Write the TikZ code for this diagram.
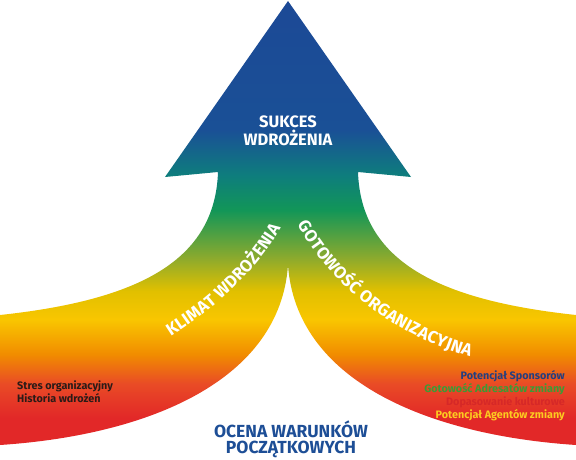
\documentclass[tikz,border=0pt]{standalone}
\usepackage{fontspec}
\setmainfont{Fira Sans}
\usepackage{xcolor}
\usetikzlibrary{decorations.text}

\definecolor{czerwony}{RGB}{226,40,40}
\definecolor{czerwpom}{RGB}{233,75,38}
\definecolor{pomarancz}{RGB}{241,140,0}
\definecolor{zolty}{RGB}{249,198,0}
\definecolor{zolty2}{RGB}{225,192,0}
\definecolor{oliwka}{RGB}{140,170,45}
\definecolor{zielony}{RGB}{18,150,88}
\definecolor{morski}{RGB}{14,125,125}
\definecolor{niebieski}{RGB}{26,80,150}
\definecolor{niebieski2}{RGB}{28,73,150}
\definecolor{granat}{RGB}{29,78,150}
\definecolor{lgranat}{RGB}{36,63,126}
\definecolor{lzielony}{RGB}{61,155,53}
\definecolor{lczerwony}{RGB}{214,40,40}
\definecolor{lzolty}{RGB}{252,203,32}
\definecolor{lciemny}{RGB}{43,27,23}

\pgfdeclareverticalshading{strzalka}{100bp}{color(0bp)=(czerwony); color(25bp)=(czerwony); color(29.5bp)=(czerwony); color(33.2bp)=(czerwpom); color(36.4bp)=(pomarancz); color(40.2bp)=(zolty); color(43.3bp)=(zolty2); color(46.9bp)=(oliwka); color(52.12bp)=(zielony); color(55.94bp)=(morski); color(60.84bp)=(niebieski); color(75bp)=(niebieski2); color(100bp)=(niebieski2)}

\tikzset{
  naglowek/.style={font=\fontsize{16.5}{18}\selectfont\bfseries, align=center},
  lista/.style={font=\fontsize{10.8}{12.8}\selectfont\bfseries},
  luk/.style={decorate, decoration={text along path, text align=center, raise=-6pt, text color=white, text={|\fontsize{17}{17}\selectfont\bfseries|#1}}}
}

\begin{document}
\begin{tikzpicture}[x=1pt,y=1pt]
\useasboundingbox (0,0) rectangle (576,459);
% strzalka z rozwidleniem
\begin{scope}
  \clip (288,458) -- (165,282) -- (218,287) .. controls (215,199) and (140,159) .. (0,144) -- (0,14)
        .. controls (150,24) and (280,79) .. (288,194) .. controls (296,79) and (426,24) .. (576,14)
        -- (576,144) .. controls (436,159) and (361,199) .. (358,287) -- (411,282) -- cycle;
  \shade[shading=strzalka] (0,0) rectangle (576,459);
\end{scope}
% napisy na ramionach
\path[luk={KLIMAT WDROŻENIA}] (150,117) .. controls (205,148) and (258,194) .. (285,252);
\path[luk={GOTOWOŚĆ ORGANIZACYJNA}] (294,252) .. controls (328,188) and (380,132) .. (488,103);
\node[naglowek, text=white, anchor=base] (sukces) at (288,314) {SUKCES\\WDROŻENIA};
\node[font=\fontsize{17.5}{16}\selectfont\bfseries, align=center, text=granat, anchor=base] (ocena) at (291,6) {OCENA WARUNKÓW\\POCZĄTKOWYCH};
\node[lista, text=lciemny, align=left, anchor=base west, inner sep=0pt] (stres) at (17,57) {Stres organizacyjny\\Historia wdrożeń};
\node[lista, align=right, anchor=base east, inner sep=0pt] (potencjal) at (565,41)
  {\textcolor{lgranat}{Potencjał Sponsorów}\\\textcolor{lzielony}{Gotowość Adresatów zmiany}\\\textcolor{lczerwony}{Dopasowanie kulturowe}\\\textcolor{lzolty}{Potencjał Agentów zmiany}};
\end{tikzpicture}
\end{document}
